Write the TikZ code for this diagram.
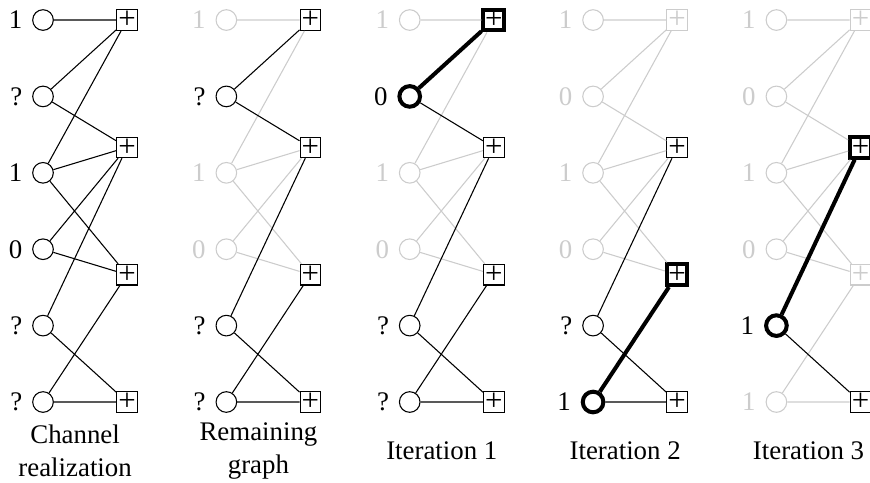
\documentclass[tikz,border=0pt]{standalone}
\usepackage{fontspec}
\setmainfont{Liberation Serif}
\usetikzlibrary{positioning}
\tikzset{
  var/.style={circle, draw, minimum size=0.27cm, inner sep=0pt},
  chk/.style={draw, minimum size=0.27cm, inner sep=0pt, font=\fontsize{11.5pt}{12pt}\selectfont},
  val/.style={inner sep=1pt},
  legend/.style={align=center},
  off/.style={black!20},
  on/.style={line width=1.5pt}
}
\begin{document}
\begin{tikzpicture}
		\useasboundingbox (-0.563,0.262) rectangle (10.825,-6.06);
		% channel realization
		\node[var] (v1) at (0,0) {}; \node[var] (v2) at (0,-1) {}; \node[var] (v3) at (0,-2) {};
		\node[var] (v4) at (0,-3) {}; \node[var] (v5) at (0,-4) {}; \node[var] (v6) at (0,-5) {};
		\node[chk] (c1) at (1.1,0) {+}; \node[chk] (c2) at (1.1,-5/3) {+};
		\node[chk] (c3) at (1.1,-10/3) {+}; \node[chk] (c4) at (1.1,-5) {+};
		\node[val,left=2.5pt of v1] (l1) {1}; \node[val,left=2.5pt of v2] (l2) {?}; \node[val,left=2.5pt of v3] (l3) {1};
		\node[val,left=2.5pt of v4] (l4) {0}; \node[val,left=2.5pt of v5] (l5) {?}; \node[val,left=2.5pt of v6] (l6) {?};
		\draw (v1) -- (c1) (v2) -- (c1) (v2) -- (c2) (v3) -- (c1) (v3) -- (c2) (v3) -- (c3)
		      (v4) -- (c2) (v4) -- (c3) (v5) -- (c2) (v5) -- (c4) (v6) -- (c3) (v6) -- (c4);
		\node[legend] (t) at (0.42,-5.64) {Channel\\realization};
		% remaining graph
		\node[var,off] (v1) at (0+2.4,0) {}; \node[var] (v2) at (0+2.4,-1) {}; \node[var,off] (v3) at (0+2.4,-2) {};
		\node[var,off] (v4) at (0+2.4,-3) {}; \node[var] (v5) at (0+2.4,-4) {}; \node[var] (v6) at (0+2.4,-5) {};
		\node[chk] (c1) at (1.1+2.4,0) {+}; \node[chk] (c2) at (1.1+2.4,-5/3) {+};
		\node[chk] (c3) at (1.1+2.4,-10/3) {+}; \node[chk] (c4) at (1.1+2.4,-5) {+};
		\node[val,off,left=2.5pt of v1] (l1) {1}; \node[val,left=2.5pt of v2] (l2) {?}; \node[val,off,left=2.5pt of v3] (l3) {1};
		\node[val,off,left=2.5pt of v4] (l4) {0}; \node[val,left=2.5pt of v5] (l5) {?}; \node[val,left=2.5pt of v6] (l6) {?};
		\draw[off] (v1) -- (c1) (v3) -- (c1) (v3) -- (c2) (v3) -- (c3) (v4) -- (c2) (v4) -- (c3);
		\draw (v2) -- (c1) (v2) -- (c2) (v5) -- (c2) (v5) -- (c4) (v6) -- (c3) (v6) -- (c4);
		\node[legend] (t) at (0.42+2.4,-5.64) {Remaining\\graph};
		% iteration 1
		\node[var,off] (v1) at (0+4.8,0) {}; \node[var,on] (v2) at (0+4.8,-1) {}; \node[var,off] (v3) at (0+4.8,-2) {};
		\node[var,off] (v4) at (0+4.8,-3) {}; \node[var] (v5) at (0+4.8,-4) {}; \node[var] (v6) at (0+4.8,-5) {};
		\node[chk,on] (c1) at (1.1+4.8,0) {+}; \node[chk] (c2) at (1.1+4.8,-5/3) {+};
		\node[chk] (c3) at (1.1+4.8,-10/3) {+}; \node[chk] (c4) at (1.1+4.8,-5) {+};
		\node[val,off,left=2.5pt of v1] (l1) {1}; \node[val,left=2.5pt of v2] (l2) {0}; \node[val,off,left=2.5pt of v3] (l3) {1};
		\node[val,off,left=2.5pt of v4] (l4) {0}; \node[val,left=2.5pt of v5] (l5) {?}; \node[val,left=2.5pt of v6] (l6) {?};
		\draw[off] (v1) -- (c1) (v3) -- (c1) (v3) -- (c2) (v3) -- (c3) (v4) -- (c2) (v4) -- (c3);
		\draw (v2) -- (c2) (v5) -- (c2) (v5) -- (c4) (v6) -- (c3) (v6) -- (c4);
		\draw[on] (v2) -- (c1);
		\node[legend] (t) at (0.42+4.8,-5.64) {Iteration 1};
		% iteration 2
		\node[var,off] (v1) at (0+7.2,0) {}; \node[var,off] (v2) at (0+7.2,-1) {}; \node[var,off] (v3) at (0+7.2,-2) {};
		\node[var,off] (v4) at (0+7.2,-3) {}; \node[var] (v5) at (0+7.2,-4) {}; \node[var,on] (v6) at (0+7.2,-5) {};
		\node[chk,off] (c1) at (1.1+7.2,0) {+}; \node[chk] (c2) at (1.1+7.2,-5/3) {+};
		\node[chk,on] (c3) at (1.1+7.2,-10/3) {+}; \node[chk] (c4) at (1.1+7.2,-5) {+};
		\node[val,off,left=2.5pt of v1] (l1) {1}; \node[val,off,left=2.5pt of v2] (l2) {0}; \node[val,off,left=2.5pt of v3] (l3) {1};
		\node[val,off,left=2.5pt of v4] (l4) {0}; \node[val,left=2.5pt of v5] (l5) {?}; \node[val,left=2.5pt of v6] (l6) {1};
		\draw[off] (v1) -- (c1) (v2) -- (c1) (v2) -- (c2) (v3) -- (c1) (v3) -- (c2) (v3) -- (c3) (v4) -- (c2) (v4) -- (c3);
		\draw (v5) -- (c2) (v5) -- (c4) (v6) -- (c4);
		\draw[on] (v6) -- (c3);
		\node[legend] (t) at (0.42+7.2,-5.64) {Iteration 2};
		% iteration 3
		\node[var,off] (v1) at (0+9.6,0) {}; \node[var,off] (v2) at (0+9.6,-1) {}; \node[var,off] (v3) at (0+9.6,-2) {};
		\node[var,off] (v4) at (0+9.6,-3) {}; \node[var,on] (v5) at (0+9.6,-4) {}; \node[var,off] (v6) at (0+9.6,-5) {};
		\node[chk,off] (c1) at (1.1+9.6,0) {+}; \node[chk,on] (c2) at (1.1+9.6,-5/3) {+};
		\node[chk,off] (c3) at (1.1+9.6,-10/3) {+}; \node[chk] (c4) at (1.1+9.6,-5) {+};
		\node[val,off,left=2.5pt of v1] (l1) {1}; \node[val,off,left=2.5pt of v2] (l2) {0}; \node[val,off,left=2.5pt of v3] (l3) {1};
		\node[val,off,left=2.5pt of v4] (l4) {0}; \node[val,left=2.5pt of v5] (l5) {1}; \node[val,off,left=2.5pt of v6] (l6) {1};
		\draw[off] (v1) -- (c1) (v2) -- (c1) (v2) -- (c2) (v3) -- (c1) (v3) -- (c2) (v3) -- (c3)
		      (v4) -- (c2) (v4) -- (c3) (v6) -- (c3) (v6) -- (c4);
		\draw (v5) -- (c4);
		\draw[on] (v5) -- (c2);
		\node[legend] (t) at (0.42+9.6,-5.64) {Iteration 3};
	\end{tikzpicture}
\end{document}
